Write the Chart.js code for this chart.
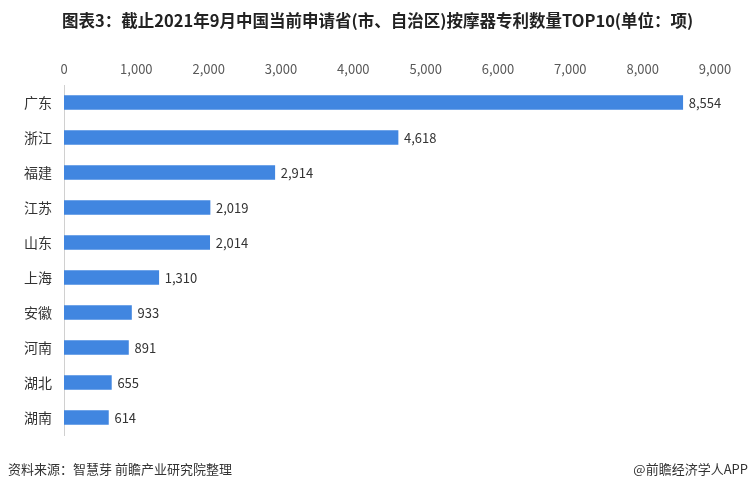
<!doctype html>
<html>
<head>
  <meta charset="utf-8">
  <script src="https://cdn.jsdelivr.net/npm/chart.js@4"></script>
  <style>
    html, body { margin: 0; padding: 0; background: #fff; }
    #wrap { width: 750px; height: 493px; }
  </style>
</head>
<body>
  <div id="wrap"><canvas id="canvas"></canvas></div>
  <script>
    const provinces = ['广东', '浙江', '福建', '江苏', '山东', '上海', '安徽', '河南', '湖北', '湖南'];
    const patents = [8554, 4618, 2914, 2019, 2014, 1310, 933, 891, 655, 614];
    const axisMax = 9000;
    const axisStep = 1000;

    const titleText = '图表3：截止2021年9月中国当前申请省(市、自治区)按摩器专利数量TOP10(单位：项)';
    const sourceText = '资料来源：智慧芽 前瞻产业研究院整理';
    const brandText = '@前瞻经济学人APP';

    const FONT = '"Noto Sans CJK SC", "Noto Sans", sans-serif';

    // title, footer and value labels
    const decor = {
      id: 'decor',
      afterDatasetsDraw(chart) {
        const ctx = chart.ctx;
        ctx.save();
        ctx.fillStyle = '#333';
        ctx.font = '13px ' + FONT;
        ctx.textBaseline = 'middle';
        ctx.textAlign = 'left';
        const meta = chart.getDatasetMeta(0);
        meta.data.forEach((bar, i) => {
          ctx.fillText(patents[i].toLocaleString('en-US'), bar.x + 6, bar.y + 1);
        });
        ctx.restore();
      },
      afterDraw(chart) {
        const ctx = chart.ctx;
        ctx.save();
        ctx.fillStyle = '#222';
        ctx.font = 'bold 16.5px ' + FONT;
        ctx.textBaseline = 'middle';
        ctx.textAlign = 'left';
        ctx.fillText(titleText, 62, 21);
        ctx.fillStyle = '#333';
        ctx.font = '13px ' + FONT;
        ctx.fillText(sourceText, 8, 469);
        ctx.textAlign = 'right';
        ctx.fillText(brandText, 748, 469);
        ctx.restore();
      }
    };

    new Chart(document.getElementById('canvas').getContext('2d'), {
      type: 'bar',
      data: {
        labels: provinces,
        datasets: [{
          data: patents,
          backgroundColor: '#4186e0',
          barThickness: 14
        }]
      },
      options: {
        indexAxis: 'y',
        responsive: true,
        maintainAspectRatio: false,
        animation: false,
        layout: { padding: { top: 55, right: 35, bottom: 58, left: 0 } },
        plugins: {
          legend: { display: false },
          tooltip: { enabled: false }
        },
        scales: {
          x: {
            position: 'top',
            min: 0,
            max: axisMax,
            afterFit(scale) { scale.height = 30; },
            grid: { display: false, drawTicks: false },
            border: { display: false },
            ticks: {
              stepSize: axisStep,
              padding: 8,
              color: '#595959',
              font: { size: 13, family: FONT },
              maxRotation: 0,
              callback: (v) => v.toLocaleString('en-US')
            }
          },
          y: {
            afterFit(scale) { scale.width = 64; },
            grid: { display: false, drawTicks: false },
            border: { display: true, color: '#d0d0d0', width: 1 },
            ticks: {
              padding: 12,
              color: '#333',
              font: { size: 14, family: FONT }
            }
          }
        }
      },
      plugins: [decor]
    });
  </script>
</body>
</html>
